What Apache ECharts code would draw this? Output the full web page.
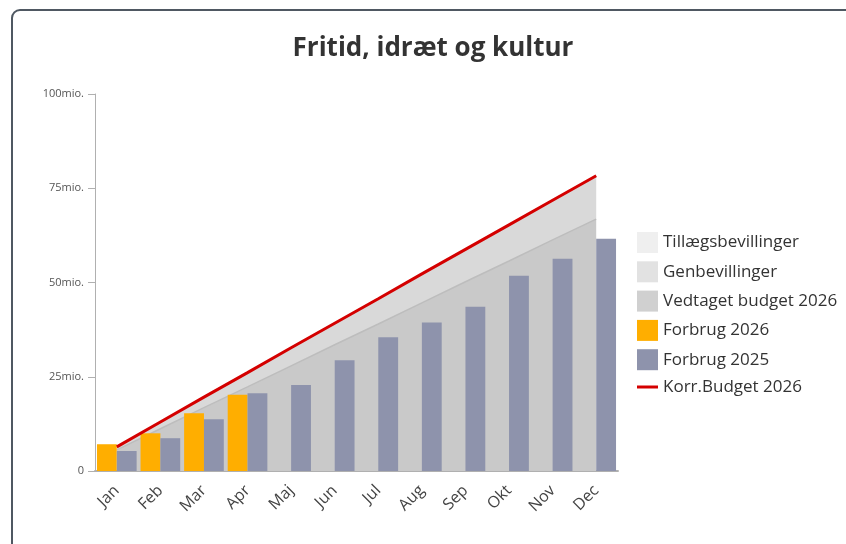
<!DOCTYPE html>
<html>
<head>
<meta charset="utf-8">
<script src="https://cdn.jsdelivr.net/npm/echarts@6/dist/echarts.min.js"></script>
<style>
html,body{margin:0;padding:0;background:#fff;}
#frame{position:absolute;left:11px;top:9px;width:900px;height:600px;border:2px solid #4f5862;border-radius:9px;box-sizing:border-box;}
#chart{position:absolute;left:0;top:0;width:846px;height:544px;}
</style>
</head>
<body>
<div id="frame"></div>
<div id="chart"></div>
<script>
var months = ['Jan','Feb','Mar','Apr','Maj','Jun','Jul','Aug','Sep','Okt','Nov','Dec'];
var yTicks = [0, 25, 50, 75, 100];
var vedtaget2026 = [5.6, 11.2, 16.8, 22.3, 27.9, 33.5, 39.0, 44.6, 50.2, 55.7, 61.3, 66.8];
var genbevillinger = [0.8, 1.8, 2.8, 3.8, 4.8, 5.7, 6.7, 7.7, 8.6, 9.6, 10.5, 11.5];
var tillaeg = [0, 0, 0, 0, 0, 0, 0, 0, 0, 0, 0, 0];
var forbrug2026 = [7.1, 10.0, 15.3, 20.2, null, null, null, null, null, null, null, null];
var forbrug2025 = [5.3, 8.7, 13.7, 20.6, 22.8, 29.4, 35.5, 39.4, 43.6, 51.8, 56.3, 61.6];
var korrBudget = [6.4, 13.0, 19.6, 26.1, 32.7, 39.2, 45.7, 52.3, 58.8, 65.3, 71.8, 78.3];

var chart = echarts.init(document.getElementById('chart'));
var font = '"Open Sans", "Noto Sans", sans-serif';
chart.setOption({
  animation: false,
  textStyle: {fontFamily: font},
  title: {
    text: 'Fritid, idræt og kultur',
    left: 428, top: 31, textAlign: 'center',
    textStyle: {fontSize: 26, fontWeight: 'bold', color: '#333', fontFamily: font}
  },
  legend: {
    orient: 'vertical', left: 637, top: 232, padding: 0,
    itemWidth: 21, itemHeight: 21, itemGap: 8.3,
    textStyle: {fontSize: 17, color: '#333', fontFamily: font},
    data: [
      {name: 'Tillægsbevillinger', icon: 'rect'},
      {name: 'Genbevillinger', icon: 'rect'},
      {name: 'Vedtaget budget 2026', icon: 'rect'},
      {name: 'Forbrug 2026', icon: 'rect'},
      {name: 'Forbrug 2025', icon: 'rect'},
      {name: 'Korr.Budget 2026', icon: 'path://M0,0 L21,0 L21,3 L0,3 Z'}
    ]
  },
  grid: {left: 95, right: 228, top: 94, bottom: 73},
  xAxis: {
    type: 'category', data: months, boundaryGap: true,
    axisLine: {lineStyle: {color: '#b0b0b0', width: 2}},
    axisTick: {alignWithLabel: true, length: 8, lineStyle: {color: '#b0b0b0', width: 2}},
    axisLabel: {rotate: 45, fontSize: 16, color: '#444', margin: 17, fontFamily: font}
  },
  yAxis: {
    type: 'value', min: 0, max: 100, interval: 25,
    splitLine: {show: false},
    axisLine: {show: true, lineStyle: {color: '#b0b0b0', width: 1}},
    axisTick: {show: true, length: 7, lineStyle: {color: '#b0b0b0'}},
    axisLabel: {fontSize: 11, color: '#555', margin: 11, fontFamily: font,
      formatter: function (v) { return yTicks.indexOf(v) >= 0 ? (v === 0 ? '0' : v + 'mio.') : ''; }}
  },
  series: [
    {name: 'Vedtaget budget 2026', type: 'line', stack: 'b', data: vedtaget2026, symbol: 'none',
      lineStyle: {width: 1.5, color: '#bdbdbd'}, itemStyle: {color: '#d0d0d0'},
      areaStyle: {color: '#c9c9c9', opacity: 1}, z: 1},
    {name: 'Genbevillinger', type: 'line', stack: 'b', data: genbevillinger, symbol: 'none',
      lineStyle: {width: 0}, itemStyle: {color: '#e2e2e2'},
      areaStyle: {color: '#d9d9d9', opacity: 1}, z: 1},
    {name: 'Tillægsbevillinger', type: 'line', stack: 'b', data: tillaeg, symbol: 'none',
      lineStyle: {width: 0}, itemStyle: {color: '#efefef'},
      areaStyle: {color: '#eeeeee', opacity: 1}, z: 1},
    {name: 'Forbrug 2026', type: 'bar', data: forbrug2026, barGap: '0%', barCategoryGap: '9%',
      itemStyle: {color: '#ffae00'}, z: 3},
    {name: 'Forbrug 2025', type: 'bar', data: forbrug2025, barGap: '0%', barCategoryGap: '9%',
      itemStyle: {color: '#8e93ac'}, z: 3},
    {name: 'Korr.Budget 2026', type: 'line', data: korrBudget, symbol: 'none',
      lineStyle: {width: 3, color: '#d40000'}, itemStyle: {color: '#d40000'}, z: 4}
  ]
});
</script>
</body>
</html>
